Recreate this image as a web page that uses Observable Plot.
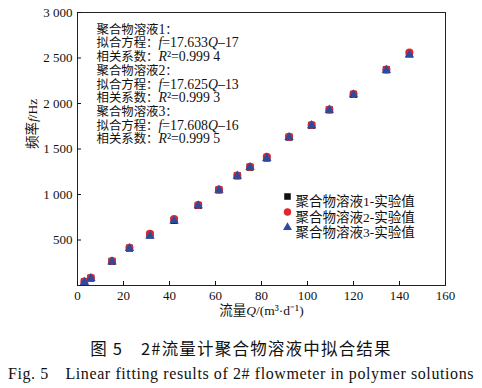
<!DOCTYPE html>
<html><head><meta charset="utf-8">
<script src="https://cdn.jsdelivr.net/npm/d3@7"></script>
<script src="https://cdn.jsdelivr.net/npm/@observablehq/plot@0.6"></script>
<style>
body{margin:0;background:#fff;width:482px;height:388px;overflow:hidden;}
#chart svg{display:block;}
.cap1{font-family:"Noto Sans CJK SC",sans-serif;font-size:16.5px;text-align:center;margin-top:13px;line-height:20px;color:#111;letter-spacing:1.2px;}
.cap2{font-family:"Liberation Serif",serif;font-size:16px;text-align:center;margin-top:6px;line-height:20px;color:#111;letter-spacing:0.6px;white-space:nowrap;}
</style>
</head><body>
<div id="chart"></div>
<div class="cap1">图 5　2#流量计聚合物溶液中拟合结果</div>
<div class="cap2">Fig. 5　Linear fitting results of 2# flowmeter in polymer solutions</div>
<script>
const flow  = [3, 5.8, 15, 22.6, 31.5, 42, 52.5, 61.5, 69.5, 75, 82.3, 92, 101.8, 109.5, 120, 134.3, 144.3];
const freq1 = [40, 80, 265, 410, 555, 715, 880, 1050, 1205, 1300, 1400, 1630, 1760, 1930, 2100, 2370, 2545];
const freq2 = [45, 85, 270, 415, 570, 730, 885, 1055, 1210, 1305, 1415, 1635, 1765, 1935, 2105, 2375, 2560];
const freq3 = [35, 78, 262, 408, 545, 710, 878, 1048, 1203, 1298, 1398, 1628, 1758, 1928, 2098, 2365, 2535];
const seriesNames = ["聚合物溶液1-实验值", "聚合物溶液2-实验值", "聚合物溶液3-实验值"];
const seriesSymbols = ["square", "circle", "triangle"];
const seriesColors = ["#111111", "#e3262e", "#2d4a9e"];
const xTicks = [0, 20, 40, 60, 80, 100, 120, 140, 160];
const yTicks = [500, 1000, 1500, 2000, 2500, 3000];
const noteLines = [
  "聚合物溶液1：",
  "拟合方程：*f*=17.633*Q*–17",
  "相关系数：*R*²=0.999 4",
  "聚合物溶液2：",
  "拟合方程：*f*=17.625*Q*–13",
  "相关系数：*R*²=0.999 3",
  "聚合物溶液3：",
  "拟合方程：*f*=17.608*Q*–16",
  "相关系数：*R*²=0.999 5"
];
const xLabel = "流量*Q*/(m³·d⁻¹)";
const yLabel = "频率*f*/Hz";

const allFreq = [freq1, freq2, freq3];
const fmt = d => d >= 1000 ? d3.format(",")(d).replace(/,/g, " ") : String(d);
const markerR = [4, 4, 3.5];

const marks = [];
allFreq.forEach((fs, s) => {
  const rows = flow.map((q, i) => ({q, f: fs[i]}));
  marks.push(Plot.dot(rows, {x: "q", y: "f", symbol: () => seriesSymbols[s], fill: seriesColors[s], stroke: "none", r: markerR[s]}));
});
marks.push(Plot.frame({stroke: "#222", strokeWidth: 1}));
marks.push(Plot.axisX({ticks: xTicks, tickSize: -4, tickPadding: 9, tickFormat: fmt, label: null, fontSize: 13}));
marks.push(Plot.axisY({ticks: yTicks, tickSize: -4, tickPadding: 9, tickFormat: fmt, label: null, fontSize: 13}));
noteLines.forEach((t, i) => {
  marks.push(Plot.text([t], {text: d => d, frameAnchor: "top-left", textAnchor: "start", dx: 19, dy: 12 + i * 13.7, fontSize: 13, fill: "#111"}));
});
seriesNames.forEach((n, s) => {
  marks.push(Plot.dot([n], {frameAnchor: "top-left", dx: 210, dy: 184 + s * 15.5, symbol: () => seriesSymbols[s], fill: seriesColors[s], stroke: "none", r: [3.7, 3.7, 3.3][s]}));
  marks.push(Plot.text([n], {text: d => d, frameAnchor: "top-left", textAnchor: "start", dx: 218, dy: 184 + s * 15.5, fontSize: 13.5, fill: "#111"}));
});
marks.push(Plot.text([xLabel], {text: d => d, frameAnchor: "bottom", dy: 29, fontSize: 13.5, fill: "#111"}));
marks.push(Plot.text([yLabel], {text: d => d, frameAnchor: "left", dx: -45, rotate: -90, fontSize: 13.5, fill: "#111"}));

const chart = Plot.plot({
  width: 482,
  height: 325,
  marginLeft: 77,
  marginRight: 37,
  marginTop: 12,
  marginBottom: 40,
  style: {fontFamily: '"Liberation Serif","Noto Sans CJK SC",serif', fontSize: "13px", color: "#111", background: "#fff"},
  x: {domain: [0, 160]},
  y: {domain: [0, 3000]},
  symbol: {type: "identity"},
  marks
});

// *...* marks italic; in the notes, CJK runs are a bit smaller than Latin runs (as in the original typesetting)
const noteSet = new Set(noteLines);
const runRe = /[\u3000-\u9fff\uff00-\uffef]+|[^\u3000-\u9fff\uff00-\uffef]+/g;
const isCJK = r => /[\u3000-\u9fff\uff00-\uffef]/.test(r);
d3.select(chart).selectAll("text").each(function() {
  const t = this.textContent;
  const isNote = noteSet.has(t);
  if (!isNote && !t.includes("*")) return;
  const parts = t.split("*");
  this.textContent = "";
  parts.forEach((p, i) => {
    if (!p) return;
    const runs = isNote ? p.match(runRe) : [p];
    runs.forEach(r => {
      const ts = d3.select(this).append("tspan").text(r);
      if (i % 2) ts.attr("font-style", "italic");
      if (isNote) ts.attr("font-size", isCJK(r) ? 12.4 : 13.8);
    });
  });
});
document.getElementById("chart").appendChild(chart);
</script>
</body></html>
